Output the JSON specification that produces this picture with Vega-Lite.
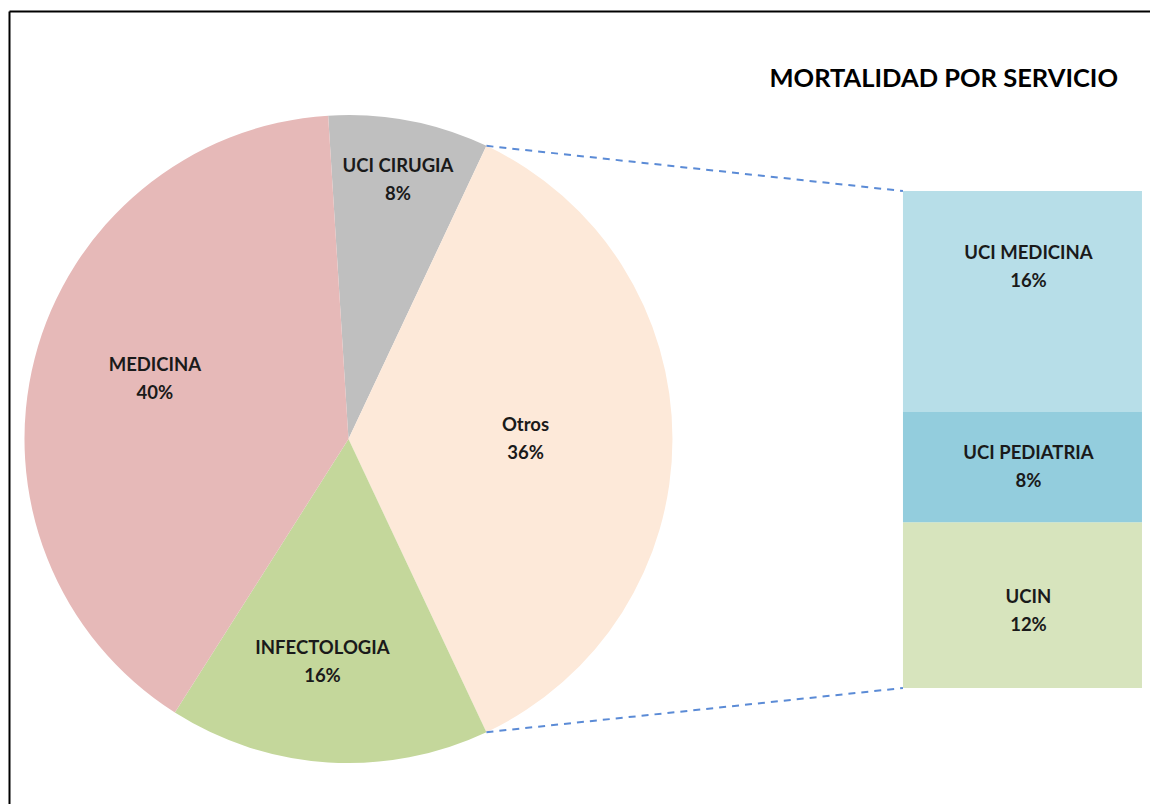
{
  "$schema": "https://vega.github.io/schema/vega-lite/v6.json",
  "width": 1150,
  "height": 804,
  "autosize": {"type": "fit", "contains": "padding"},
  "padding": {"left": 9, "top": 11, "right": 0, "bottom": 0},
  "background": "white",
  "config": {
    "view": {"stroke": null},
    "axis": {"domainColor": "#000000", "domainWidth": 2, "ticks": false, "labels": false, "grid": false}
  },
  "title": {
    "text": "MORTALIDAD POR SERVICIO",
    "anchor": "end",
    "frame": "group",
    "offset": -93,
    "dx": -32,
    "baseline": "middle",
    "font": "Lato",
    "fontSize": 25.5,
    "fontWeight": "bold",
    "color": "#000000"
  },
  "datasets": {
    "pie": [
      {"servicio": "UCI CIRUGIA", "pct": 0.08, "orden": 1},
      {"servicio": "Otros", "pct": 0.36, "orden": 2},
      {"servicio": "INFECTOLOGIA", "pct": 0.16, "orden": 3},
      {"servicio": "MEDICINA", "pct": 0.40, "orden": 4}
    ],
    "barra": [
      {"servicio": "UCIN", "pct": 0.12, "orden": 1},
      {"servicio": "UCI PEDIATRIA", "pct": 0.08, "orden": 2},
      {"servicio": "UCI MEDICINA", "pct": 0.16, "orden": 3}
    ]
  },
  "layer": [
    {
      "data": {"name": "pie"},
      "mark": {"type": "arc", "outerRadius": 324},
      "encoding": {
        "x": {"datum": 0.24591, "type": "quantitative", "scale": {"domain": [0, 0.8265], "nice": false, "zero": false}, "axis": {"orient": "top", "title": null}},
        "y": {"datum": 0.18036, "type": "quantitative", "scale": {"domain": [-0.0840, 0.4904], "nice": false, "zero": false}, "axis": {"orient": "left", "title": null}},
        "theta": {"field": "pct", "type": "quantitative", "stack": true, "scale": {"range": [-0.0628, 6.2204]}},
        "order": {"field": "orden", "type": "quantitative"},
        "color": {
          "field": "servicio", "type": "nominal", "legend": null,
          "scale": {
            "domain": ["UCI CIRUGIA", "Otros", "INFECTOLOGIA", "MEDICINA", "UCI MEDICINA", "UCI PEDIATRIA", "UCIN"],
            "range": ["#BFBFBF", "#FDE9D9", "#C4D79B", "#E6B9B8", "#B7DEE8", "#93CDDD", "#D7E4BD"]
          }
        }
      }
    },
    {
      "data": {"name": "pie"},
      "mark": {
        "type": "text", "font": "Lato", "fontWeight": "bold", "fontSize": 18.5, "color": "#1a1a1a",
        "dx": {"expr": "datum.servicio === 'MEDICINA' ? 4 : datum.servicio === 'INFECTOLOGIA' ? -12 : 0"},
        "dy": {"expr": "(datum.servicio === 'MEDICINA' ? -9 : 0) - 14"},
        "radius": {"expr": "datum.servicio === 'UCI CIRUGIA' ? 264 : datum.servicio === 'Otros' ? 177 : datum.servicio === 'INFECTOLOGIA' ? 223 : 204"}
      },
      "encoding": {
        "x": {"datum": 0.24591, "type": "quantitative"},
        "y": {"datum": 0.18036, "type": "quantitative"},
        "theta": {"field": "pct", "type": "quantitative", "stack": true},
        "order": {"field": "orden", "type": "quantitative"},
        "detail": {"field": "servicio", "type": "nominal"},
        "text": {"field": "servicio", "type": "nominal"}
      }
    },
    {
      "data": {"name": "pie"},
      "mark": {
        "type": "text", "font": "Lato", "fontWeight": "bold", "fontSize": 18.5, "color": "#1a1a1a",
        "dx": {"expr": "datum.servicio === 'MEDICINA' ? 4 : datum.servicio === 'INFECTOLOGIA' ? -12 : 0"},
        "dy": {"expr": "(datum.servicio === 'MEDICINA' ? -9 : 0) + 14"},
        "radius": {"expr": "datum.servicio === 'UCI CIRUGIA' ? 264 : datum.servicio === 'Otros' ? 177 : datum.servicio === 'INFECTOLOGIA' ? 223 : 204"}
      },
      "encoding": {
        "x": {"datum": 0.24591, "type": "quantitative"},
        "y": {"datum": 0.18036, "type": "quantitative"},
        "theta": {"field": "pct", "type": "quantitative", "stack": true},
        "order": {"field": "orden", "type": "quantitative"},
        "detail": {"field": "servicio", "type": "nominal"},
        "text": {"field": "pct", "type": "quantitative", "format": ".0%"}
      }
    },
    {
      "data": {"name": "barra"},
      "transform": [
        {"stack": "pct", "groupby": [], "sort": [{"field": "orden", "order": "ascending"}], "as": ["pct_ini", "pct_fin"]}
      ],
      "mark": {"type": "rect"},
      "encoding": {
        "x": {"datum": 0.64756, "type": "quantitative"},
        "x2": {"datum": 0.82068},
        "y": {"field": "pct_ini", "type": "quantitative"},
        "y2": {"field": "pct_fin"},
        "color": {
          "field": "servicio", "type": "nominal", "legend": null,
          "scale": {
            "domain": ["UCI CIRUGIA", "Otros", "INFECTOLOGIA", "MEDICINA", "UCI MEDICINA", "UCI PEDIATRIA", "UCIN"],
            "range": ["#BFBFBF", "#FDE9D9", "#C4D79B", "#E6B9B8", "#B7DEE8", "#93CDDD", "#D7E4BD"]
          }
        }
      }
    },
    {
      "data": {"name": "barra"},
      "mark": {
        "type": "text", "font": "Lato", "fontWeight": "bold", "fontSize": 18.5, "color": "#1a1a1a", "dx": 6,
        "dy": {"expr": "(datum.servicio === 'UCI MEDICINA' ? -34 : datum.servicio === 'UCIN' ? 6 : 0) - 14"}
      },
      "encoding": {
        "x": {"datum": 0.73412, "type": "quantitative"},
        "y": {"field": "pct", "type": "quantitative", "stack": true, "bandPosition": 0.5},
        "order": {"field": "orden", "type": "quantitative"},
        "detail": {"field": "servicio", "type": "nominal"},
        "text": {"field": "servicio", "type": "nominal"}
      }
    },
    {
      "data": {"name": "barra"},
      "mark": {
        "type": "text", "font": "Lato", "fontWeight": "bold", "fontSize": 18.5, "color": "#1a1a1a", "dx": 6,
        "dy": {"expr": "(datum.servicio === 'UCI MEDICINA' ? -34 : datum.servicio === 'UCIN' ? 6 : 0) + 14"}
      },
      "encoding": {
        "x": {"datum": 0.73412, "type": "quantitative"},
        "y": {"field": "pct", "type": "quantitative", "stack": true, "bandPosition": 0.5},
        "order": {"field": "orden", "type": "quantitative"},
        "detail": {"field": "servicio", "type": "nominal"},
        "text": {"field": "pct", "type": "quantitative", "format": ".0%"}
      }
    },
    {
      "data": {"values": [{}]},
      "mark": {"type": "rule", "color": "#5B8BD6", "strokeDash": [7, 6], "strokeWidth": 2},
      "encoding": {
        "x": {"datum": 0.34584, "type": "quantitative"},
        "y": {"datum": 0.39271, "type": "quantitative"},
        "x2": {"datum": 0.64756},
        "y2": {"datum": 0.36}
      }
    },
    {
      "data": {"values": [{}]},
      "mark": {"type": "rule", "color": "#5B8BD6", "strokeDash": [7, 6], "strokeWidth": 2},
      "encoding": {
        "x": {"datum": 0.34584, "type": "quantitative"},
        "y": {"datum": -0.03199, "type": "quantitative"},
        "x2": {"datum": 0.64756},
        "y2": {"datum": 0}
      }
    }
  ]
}
